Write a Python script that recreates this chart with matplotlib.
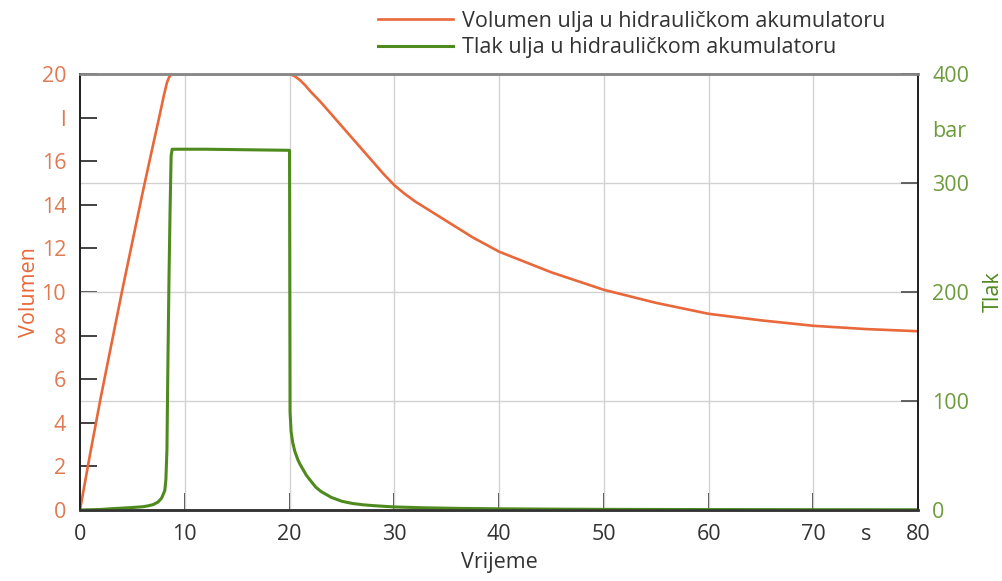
import matplotlib.pyplot as plt

plt.rcParams["font.family"] = ["Open Sans", "DejaVu Sans"]

# volumen ulja (l)
t_vol = [0, 1, 2, 3, 4, 5, 6, 7, 7.6, 8.0, 8.3, 8.5, 8.7, 9, 15, 20, 20.5, 21, 21.5, 22, 23, 24,
         25, 26, 27, 28, 29, 30, 31, 32, 33.5, 35, 37.5, 40, 45, 50, 55, 60, 65, 70, 75, 80]
vol = [0, 2.65, 5.2, 7.6, 10.0, 12.3, 14.6, 16.8, 18.1, 19.0, 19.6, 19.85, 19.97, 20, 20, 20, 19.9,
       19.72, 19.48, 19.2, 18.7, 18.15, 17.6, 17.05, 16.5, 15.95, 15.4, 14.9, 14.5, 14.15, 13.7,
       13.25, 12.5, 11.85, 10.9, 10.1, 9.5, 9.0, 8.7, 8.45, 8.3, 8.2]

# tlak ulja (bar)
t_p = [0, 2, 3, 4, 5, 6, 6.5, 7, 7.45, 7.8, 8.1, 8.2, 8.3, 8.4, 8.5, 8.6, 8.7, 8.8, 12, 16, 20.0,
       20.05, 20.15, 20.3, 20.5, 20.8, 21, 21.3, 21.6, 22, 22.5, 23, 24, 25, 26, 27, 28, 30, 33, 36,
       40, 45, 50, 60, 70, 80]
p = [0, 0.5, 1.2, 1.7, 2.3, 3, 3.8, 5, 7.3, 11, 18, 28, 55, 140, 215, 275, 325, 331, 331, 330.5,
     330, 90, 72, 62, 54, 46, 42, 37, 32, 27, 21, 17, 11.5, 8, 6, 4.8, 4, 2.8, 2, 1.5, 1.1, 0.8,
     0.6, 0.4, 0.3, 0.2]

x_ticks = [0, 10, 20, 30, 40, 50, 60, 70, 75, 80]
x_labels = ["0", "10", "20", "30", "40", "50", "60", "70", "s", "80"]
vol_ticks = [0, 2, 4, 6, 8, 10, 12, 14, 16, 18, 20]
vol_labels = ["0", "2", "4", "6", "8", "10", "12", "14", "16", "l", "20"]
p_ticks = [0, 100, 200, 300, 350, 400]
p_labels = ["0", "100", "200", "300", "bar", "400"]

c_vol = "#E8683A"
c_p = "#4F8A1E"
c_vol_txt = "#DF7A52"
c_p_txt = "#6E9B3C"
fs = 15.5

fig = plt.figure(figsize=(10.02, 5.81), dpi=100)
ax = fig.add_axes([0.0798, 0.1222, 0.8366, 0.7504])
ax2 = ax.twinx()

l1, = ax.plot(t_vol, vol, color=c_vol, lw=1.9, label="Volumen ulja u hidrauličkom akumulatoru")
l2, = ax2.plot(t_p, p, color=c_p, lw=2.2, label="Tlak ulja u hidrauličkom akumulatoru")

ax.set_xlim(0, 80)
ax.set_ylim(0, 20)
ax2.set_ylim(0, 400)

# grid on minor ticks only
ax.xaxis.remove_overlapping_locs = False
ax.yaxis.remove_overlapping_locs = False
ax.set_xticks(range(10, 80, 10), minor=True)
ax.set_yticks([5, 10, 15], minor=True)
ax.grid(which="minor", color="#d2d2d2", lw=1.0)
ax.tick_params(which="minor", length=0)

ax.set_xticks(x_ticks)
ax.set_xticklabels(x_labels)
ax.set_yticks(vol_ticks)
ax.set_yticklabels(vol_labels)
ax2.set_yticks(p_ticks)
ax2.set_yticklabels(p_labels)

ax.tick_params(axis="x", direction="in", length=12, width=1.3, color="#333333",
               labelsize=fs, labelcolor="#333333", pad=10)
ax.tick_params(axis="y", direction="in", length=12, width=1.3, color="#333333",
               labelsize=fs, labelcolor=c_vol_txt, pad=10)
ax2.tick_params(axis="y", direction="in", length=12, width=1.3, color="#555555",
                labelsize=fs, labelcolor=c_p_txt, pad=10)

# unit labels without tick marks
ax.xaxis.get_major_ticks()[8].tick1line.set_visible(False)
ax2.yaxis.get_major_ticks()[4].tick2line.set_visible(False)

for a in (ax, ax2):
    a.spines["top"].set_color("#888888")
    a.spines["top"].set_linewidth(1.8)
    a.spines["bottom"].set_color("#333333")
    a.spines["bottom"].set_linewidth(1.8)
    a.spines["left"].set_color("#222222")
    a.spines["left"].set_linewidth(1.3)
    a.spines["right"].set_color("#222222")
    a.spines["right"].set_linewidth(1.3)

ax.set_xlabel("Vrijeme", fontsize=fs, color="#333333", labelpad=5)
ax.set_ylabel("Volumen", fontsize=fs, color=c_vol, labelpad=1)
ax2.set_ylabel("Tlak", fontsize=fs, color=c_p, labelpad=10)

fig.legend(handles=[l1, l2], loc="upper left", bbox_to_anchor=(0.358, 1.015), frameon=False,
           fontsize=fs, handlelength=3.5, handletextpad=0.4, labelspacing=0.25,
           labelcolor="#333333")

fig.savefig("out.png", dpi=100)
